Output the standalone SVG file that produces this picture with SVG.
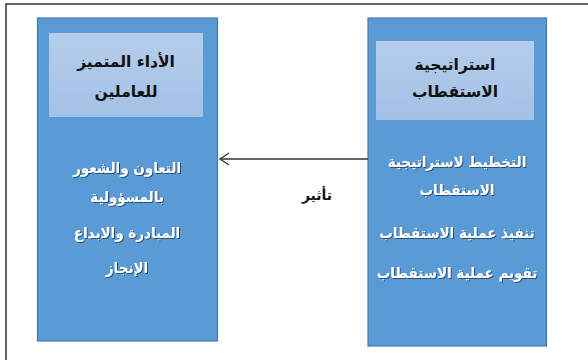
<svg xmlns="http://www.w3.org/2000/svg" width="588" height="360" viewBox="0 0 588 360">
<style>
.box{fill:#5b9bd5;stroke:#4a78a8;stroke-width:1.2}
.hdr{fill:url(#hg)}
.ht{font-family:"DejaVu Sans",sans-serif;font-size:15.5px;font-weight:bold;fill:#111;text-anchor:middle;direction:rtl}
.bt{font-family:"DejaVu Sans Condensed","DejaVu Sans",sans-serif;font-stretch:condensed;font-size:15px;font-weight:bold;fill:#fff;text-anchor:middle;direction:rtl;filter:url(#sh)}
.lbl{font-family:"DejaVu Sans",sans-serif;font-size:14px;font-weight:bold;fill:#111;text-anchor:middle;direction:rtl}
.conn{stroke:#333;stroke-width:1.3;fill:none}
</style>
<defs>
<linearGradient id="hg" x1="0" y1="0" x2="0" y2="1">
<stop offset="0" stop-color="#b5cdea"/>
<stop offset="1" stop-color="#a3c1e6"/>
</linearGradient>
<filter id="sh" x="-10%" y="-30%" width="120%" height="160%">
<feDropShadow dx="1" dy="1" stdDeviation="0.4" flood-color="#1f3a5a" flood-opacity="0.8"/>
</filter>
<marker id="arr" markerWidth="12" markerHeight="14" refX="10" refY="7" orient="auto" markerUnits="userSpaceOnUse">
<path d="M1,1 L10,7 L1,13" fill="none" stroke="#333" stroke-width="1.3"/>
</marker>
</defs>
<rect x="6" y="4" width="600" height="370" fill="#fff" stroke="#333" stroke-width="1.5"/>
<g id="node-performance">
<rect class="box" x="37.5" y="18" width="180" height="323"/>
<rect class="hdr" x="49" y="33" width="154" height="84"/>
<text class="ht" x="126" y="67">الأداء المتميز</text>
<text class="ht" x="126" y="97">للعاملين</text>
<text class="bt" x="127" y="173">التعاون والشعور</text>
<text class="bt" x="127" y="202">بالمسؤولية</text>
<text class="bt" x="127" y="238">المبادرة والابداع</text>
<text class="bt" x="127" y="273">الإنجاز</text>
</g>
<g id="node-strategy">
<rect class="box" x="368" y="18" width="178.5" height="328"/>
<rect class="hdr" x="376" y="41" width="158" height="79"/>
<text class="ht" x="455" y="70">استراتيجية</text>
<text class="ht" x="455" y="97">الاستقطاب</text>
<text class="bt" x="457" y="167">التخطيط لاستراتيجية</text>
<text class="bt" x="457" y="195">الاستقطاب</text>
<text class="bt" x="457" y="238">تنفيذ عملية الاستقطاب</text>
<text class="bt" x="457" y="278">تقويم عملية الاستقطاب</text>
</g>
<g id="connectors">
<line class="conn" x1="368" y1="159" x2="220" y2="159" marker-end="url(#arr)"/>
<text class="lbl" x="317" y="200">تأثير</text>
</g>
</svg>
